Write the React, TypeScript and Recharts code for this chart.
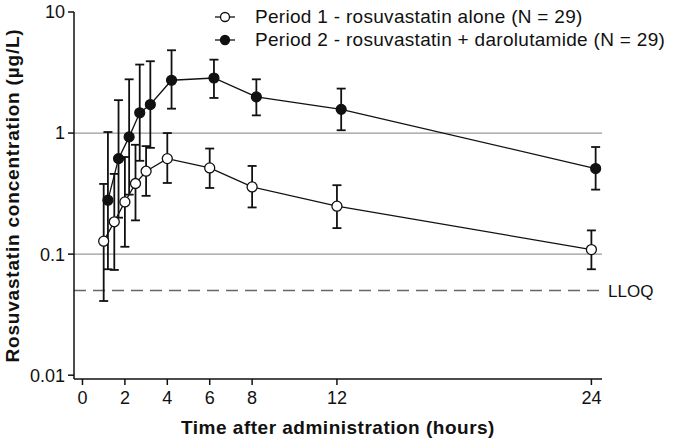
import React from 'react';
import { LineChart, Line, XAxis, YAxis, ErrorBar, ReferenceLine, Legend } from 'recharts';

const TIMES = [1, 1.5, 2, 2.5, 3, 4, 6, 8, 12, 24];
const P1_MEAN = [0.128, 0.185, 0.27, 0.383, 0.484, 0.615, 0.515, 0.359, 0.249, 0.109];
const P1_LOW = [0.041, 0.074, 0.115, 0.19, 0.303, 0.387, 0.352, 0.243, 0.164, 0.075];
const P1_HIGH = [0.38, 0.46, 0.634, 0.8, 0.78, 1.0, 0.745, 0.535, 0.371, 0.157];
const P2_MEAN = [0.279, 0.615, 0.93, 1.47, 1.72, 2.73, 2.85, 1.99, 1.57, 0.509];
const P2_LOW = [0.075, 0.2, 0.31, 0.59, 0.755, 1.59, 1.95, 1.4, 1.055, 0.341];
const P2_HIGH = [1.02, 1.87, 2.78, 3.68, 3.92, 4.83, 4.04, 2.78, 2.33, 0.767];
const P2_DODGE = 0.2;

const X_TICKS = [0, 2, 4, 6, 8, 12, 24];
const Y_TICKS = [0.01, 0.1, 1, 10];
const Y_TICK_LABELS = ['0.01', '0.1', '1', '10'];
const GRID_LINES = [0.1, 1];
const LLOQ = 0.05;
const LLOQ_LABEL = 'LLOQ';
const SERIES_NAMES = [
  'Period 1 - rosuvastatin alone (N = 29)',
  'Period 2 - rosuvastatin + darolutamide (N = 29)',
];
const X_TITLE = 'Time after administration (hours)';
const Y_TITLE = 'Rosuvastatin concentration (\u00b5g/L)';

const FONT = '"Liberation Sans", Arial, Helvetica, sans-serif';

const build = (mean: number[], low: number[], high: number[], dodge: number) =>
  TIMES.map((t, i) => ({
    t: t + dodge,
    v: mean[i],
    err: [mean[i] - low[i], high[i] - mean[i]],
  }));

const data1 = build(P1_MEAN, P1_LOW, P1_HIGH, 0);
const data2 = build(P2_MEAN, P2_LOW, P2_HIGH, P2_DODGE);

const LegendContent = () => (
  <div style={{ fontFamily: FONT, fontSize: 19, letterSpacing: 0.3, color: '#111' }}>
    {SERIES_NAMES.map((name, i) => (
      <div key={name} style={{ display: 'flex', alignItems: 'center', height: 23.5 }}>
        <svg width={43} height={20} style={{ display: 'block' }}>
          <line x1={3} y1={10} x2={23} y2={10} stroke="#111" strokeWidth={1.3} />
          <circle cx={13} cy={10} r={4.5} fill={i === 0 ? '#fff' : '#111'} stroke="#111" strokeWidth={1.3} />
        </svg>
        <span style={{ whiteSpace: 'nowrap' }}>{name}</span>
      </div>
    ))}
  </div>
);

const YTitle = (props: any) => {
  const vb = props.viewBox || { x: 14, y: 12, width: 60, height: 367 };
  const cx = 12;
  const cy = vb.y + vb.height / 2;
  return (
    <text
      x={cx}
      y={cy}
      transform={`rotate(-90 ${cx} ${cy})`}
      textAnchor="middle"
      dominantBaseline="central"
      fontFamily={FONT}
      fontWeight="bold"
      fontSize={19}
      letterSpacing={0.8}
      fill="#111"
    >
      {Y_TITLE}
    </text>
  );
};

const XTitle = (props: any) => {
  const vb = props.viewBox || { x: 74, y: 379, width: 528, height: 62 };
  const cx = vb.x + vb.width / 2;
  return (
    <text
      x={cx}
      y={434}
      textAnchor="middle"
      fontFamily={FONT}
      fontWeight="bold"
      fontSize={19}
      letterSpacing={0.5}
      fill="#111"
    >
      {X_TITLE}
    </text>
  );
};

export default function App() {
  const tickStyle = { fontFamily: FONT, fontSize: 18, fill: '#111' };
  return (
    <div style={{ position: 'absolute', left: 0, top: 0, width: 685, height: 441, background: '#fff' }}>
      <LineChart width={685} height={441} margin={{ top: 12, right: 83, bottom: 0, left: 14 }}>
        {GRID_LINES.map((g) => (
          <ReferenceLine key={g} y={g} stroke="#9a9a9a" strokeWidth={1.2} ifOverflow="hidden" />
        ))}
        <ReferenceLine
          y={LLOQ}
          stroke="#666"
          strokeWidth={1.6}
          strokeDasharray="12 7"
          label={{ value: LLOQ_LABEL, position: 'right', offset: 6, fill: '#111', fontSize: 17, fontFamily: FONT }}
        />
        <XAxis
          type="number"
          dataKey="t"
          domain={[-0.4, 24.5]}
          ticks={X_TICKS}
          allowDataOverflow
          height={62}
          axisLine={{ stroke: '#111', strokeWidth: 1.5 }}
          tickLine={{ stroke: '#111', strokeWidth: 1.5 }}
          tickSize={6}
          tick={tickStyle}
          tickMargin={6}
          label={<XTitle />}
        />
        <YAxis
          scale="log"
          type="number"
          domain={[0.0093, 10]}
          ticks={Y_TICKS}
          allowDataOverflow
          width={60}
          axisLine={{ stroke: '#111', strokeWidth: 1.5 }}
          tickLine={{ stroke: '#111', strokeWidth: 1.5 }}
          tickSize={6}
          tick={tickStyle}
          tickMargin={3}
          tickFormatter={(v: number) => Y_TICK_LABELS[Y_TICKS.indexOf(v)] ?? String(v)}
          label={<YTitle />}
        />
        <Legend
          layout="vertical"
          align="center"
          verticalAlign="middle"
          content={<LegendContent />}
          wrapperStyle={{ position: 'absolute', left: 212, top: 5, width: 470 }}
        />
        <Line
          data={data2}
          dataKey="v"
          type="linear"
          stroke="#111"
          strokeWidth={1.3}
          dot={{ r: 5, fill: '#111', stroke: '#111', strokeWidth: 1.2 }}
          activeDot={false}
          isAnimationActive={false}
          legendType="none"
        >
          <ErrorBar dataKey="err" direction="y" width={4.5} stroke="#111" strokeWidth={1.8} />
        </Line>
        <Line
          data={data1}
          dataKey="v"
          type="linear"
          stroke="#111"
          strokeWidth={1.3}
          dot={{ r: 5, fill: '#fff', stroke: '#111', strokeWidth: 1.3 }}
          activeDot={false}
          isAnimationActive={false}
          legendType="none"
        >
          <ErrorBar dataKey="err" direction="y" width={4.5} stroke="#111" strokeWidth={1.8} />
        </Line>
      </LineChart>
    </div>
  );
}
